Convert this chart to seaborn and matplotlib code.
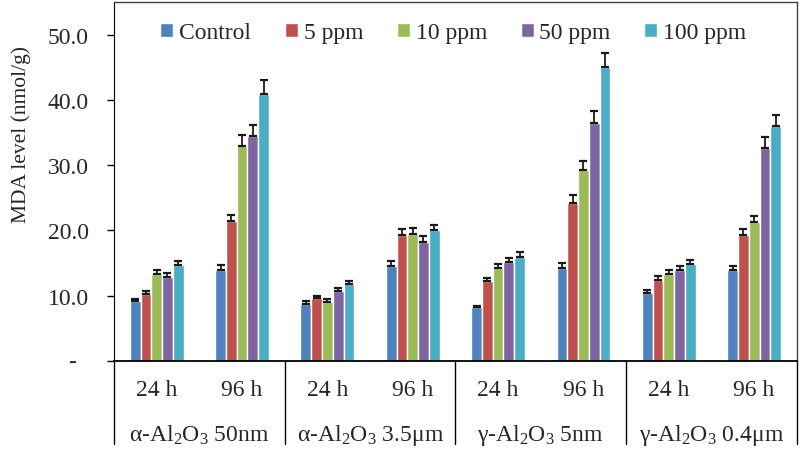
import numpy as np
import pandas as pd
import seaborn as sns
import matplotlib.pyplot as plt

# values
materials = [r"α-Al$_2$O$_3$ 50nm", r"α-Al$_2$O$_3$ 3.5μm", r"γ-Al$_2$O$_3$ 5nm", r"γ-Al$_2$O$_3$ 0.4μm"]
times = ["24 h", "96 h"]
doses = ["Control", "5 ppm", "10 ppm", "50 ppm", "100 ppm"]

control = [9.2, 14.0, 8.8, 14.5, 8.2, 14.2, 10.4, 13.9]
ppm5 = [10.2, 21.4, 9.6, 19.3, 12.3, 24.2, 12.4, 19.3]
ppm10 = [13.4, 33.0, 9.1, 19.5, 14.2, 29.3, 13.4, 21.3]
ppm50 = [12.9, 34.4, 10.7, 18.2, 15.2, 36.5, 13.9, 32.6]
ppm100 = [14.7, 40.9, 11.75, 20.0, 16.0, 45.1, 14.85, 36.0]

err_control = [0.3, 0.65, 0.45, 0.8, 0.25, 0.8, 0.45, 0.6]
err_5 = [0.5, 1.0, 0.35, 0.9, 0.4, 1.3, 0.65, 0.95]
err_10 = [0.6, 1.6, 0.45, 0.85, 0.6, 1.3, 0.55, 0.95]
err_50 = [0.55, 1.7, 0.45, 0.9, 0.55, 1.8, 0.6, 1.7]
err_100 = [0.6, 2.1, 0.45, 0.9, 0.75, 2.1, 0.6, 1.7]

colors = ["#4F81BD", "#C0504D", "#9BBB59", "#8064A2", "#4BACC6"]

groups = [f"{m}|{t}" for m in materials for t in times]
vals = [control, ppm5, ppm10, ppm50, ppm100]
errs = [err_control, err_5, err_10, err_50, err_100]

rows = []
for d, v in zip(doses, vals):
    for g, y in zip(groups, v):
        rows.append({"group": g, "dose": d, "mda": y})
df = pd.DataFrame(rows)

sns.set_style("white")
plt.rcParams["font.family"] = ["Liberation Serif", "DejaVu Serif"]
plt.rcParams["mathtext.fontset"] = "custom"
plt.rcParams["mathtext.rm"] = "Liberation Serif"
plt.rcParams["mathtext.it"] = "Liberation Serif:italic"
plt.rcParams["mathtext.bf"] = "Liberation Serif:bold"

fig = plt.figure(figsize=(8, 4.56), dpi=100)
ax = fig.add_axes([0.1425, 0.2061, 0.8535, 0.7873])

sns.barplot(data=df, x="group", y="mda", hue="dose", order=groups, hue_order=doses,
            palette=colors, width=0.63, errorbar=None, saturation=1, ax=ax)

for cont, e in zip(ax.containers, errs):
    xs = [b.get_x() + b.get_width() / 2 for b in cont]
    ys = [b.get_height() for b in cont]
    ax.errorbar(xs, ys, yerr=[np.zeros(len(e)), e], fmt="none", ecolor="#1a1a1a",
                elinewidth=1.3, capsize=3, capthick=1.6, zorder=3)

ax.set_ylim(0, 55)
ax.set_xlim(-0.5, 7.5)
ax.set_yticks([0, 10, 20, 30, 40, 50])
ax.set_yticklabels(["", "10.0", "20.0", "30.0", "40.0", "50.0"], fontsize=17)
ax.tick_params(axis="y", direction="out", length=5, width=1, pad=13, left=True, color="black")
ax.set_xticks([])
ax.set_xlabel("")
ax.text(-0.0615, 0, "-", transform=ax.get_yaxis_transform(), ha="center", va="center", fontsize=17)

ax.set_ylabel("MDA level (nmol/g)", fontsize=15.5)
ax.yaxis.set_label_coords(-0.121, 0.635)

for s in ["top", "right"]:
    ax.spines[s].set_color("#404040")
    ax.spines[s].set_linewidth(1)
ax.spines["left"].set_color("black")
ax.spines["bottom"].set_color("black")
ax.spines["bottom"].set_linewidth(1.3)

tr = ax.get_xaxis_transform()
for i, g in enumerate(groups):
    ax.text(i, -0.078, g.split("|")[1], transform=tr, ha="center", va="center", fontsize=17)
for k, m in enumerate(materials):
    ax.text(2 * k + 0.5, -0.205, m, transform=tr, ha="center", va="center", fontsize=17)
for xb in [-0.5, 1.5, 3.5, 5.5, 7.5]:
    ax.plot([xb, xb], [0, -0.232], transform=tr, color="black", lw=1, clip_on=False)

leg = ax.legend(loc="upper center", bbox_to_anchor=(0.497, 1.0), ncol=5, frameon=False,
                fontsize=17, handlelength=0.55, handleheight=0.55, handletextpad=0.25,
                columnspacing=1.42, borderaxespad=0.45)

fig.savefig("out.png", dpi=100)
